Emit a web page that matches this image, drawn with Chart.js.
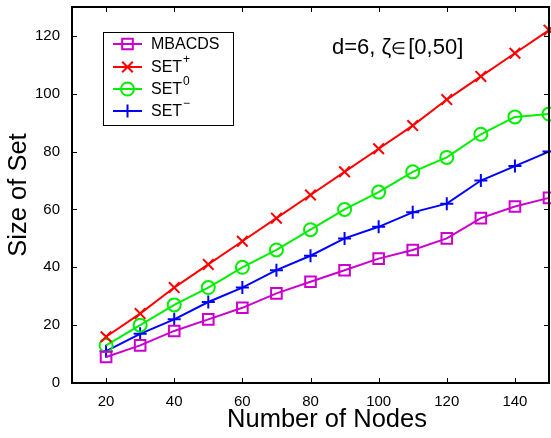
<!DOCTYPE html>
<html>
<head>
<meta charset="utf-8">
<script src="https://cdn.jsdelivr.net/npm/chart.js@4/dist/chart.umd.min.js"></script>
<style>
  html, body { margin: 0; padding: 0; background: #fff; }
  #wrap { width: 551px; height: 438px; }
</style>
</head>
<body>
<div id="wrap"><canvas id="c" width="551" height="438"></canvas></div>
<script>
// valores
const nodes = [20, 30, 40, 50, 60, 70, 80, 90, 100, 110, 120, 130, 140, 150];
const mbacds = [9, 13, 18, 22, 26, 31, 35, 39, 43, 46, 50, 57, 61, 64];
const setPlus = [16, 24, 33, 41, 49, 57, 65, 73, 81, 89, 98, 106, 114, 122];
const setZero = [13, 20, 27, 33, 40, 46, 53, 60, 66, 73, 78, 86, 92, 93];
const setMinus = [11, 17, 22, 28, 33, 39, 44, 50, 54, 59, 62, 70, 75, 80];
const xTicks = [20, 40, 60, 80, 100, 120, 140];
const yTicks = [0, 20, 40, 60, 80, 100, 120];

const FONT = 'Liberation Sans, Arial, Helvetica, sans-serif';

function serie(label, values, color, style, radius) {
    return {
        label: label,
        data: values.map((v, i) => ({ x: nodes[i], y: v })),
        borderColor: color,
        backgroundColor: 'rgba(0,0,0,0)',
        borderWidth: 2,
        pointStyle: style,
        pointRadius: radius,
        pointBorderWidth: 2,
        pointBorderColor: color,
        pointBackgroundColor: 'rgba(0,0,0,0)',
        tension: 0,
        fill: false,
        clip: false
    };
}

const datasets = [
    serie('MBACDS', mbacds, '#cc00cc', 'rect', 7.5),
    serie('SET', setPlus, '#ff0000', 'crossRot', 7.5),
    serie('SET', setZero, '#00ee00', 'circle', 6.5),
    serie('SET', setMinus, '#0000ff', 'cross', 6.5)
];
const legendSup = ['', '+', '0', '\u2212'];

// caja estilo MATLAB con ticks hacia dentro, leyenda y texto
const matlabBox = {
    id: 'matlabBox',
    afterDraw(chart) {
        const ctx = chart.ctx;
        const a = chart.chartArea;
        const xs = chart.scales.x, ys = chart.scales.y;
        ctx.save();
        ctx.strokeStyle = '#000';
        ctx.lineWidth = 2;
        ctx.strokeRect(a.left, a.top, a.right - a.left, a.bottom - a.top);
        ctx.lineWidth = 1;
        ctx.beginPath();
        xTicks.forEach(t => {
            const px = Math.round(xs.getPixelForValue(t)) + 0.5;
            ctx.moveTo(px, a.bottom); ctx.lineTo(px, a.bottom - 5);
            ctx.moveTo(px, a.top); ctx.lineTo(px, a.top + 5);
        });
        yTicks.forEach(t => {
            const py = Math.round(ys.getPixelForValue(t)) + 0.5;
            ctx.moveTo(a.left, py); ctx.lineTo(a.left + 5, py);
            ctx.moveTo(a.right, py); ctx.lineTo(a.right - 5, py);
        });
        ctx.stroke();

        // leyenda
        const lx = 103.5, ly = 32.5, lw = 130, lh = 93;
        ctx.fillStyle = '#fff';
        ctx.fillRect(lx, ly, lw, lh);
        ctx.lineWidth = 1;
        ctx.strokeRect(lx, ly, lw, lh);
        const rows = [44, 67, 89, 111];
        datasets.forEach((ds, i) => {
            const y = rows[i];
            ctx.strokeStyle = ds.borderColor;
            ctx.lineWidth = 2;
            ctx.beginPath();
            ctx.moveTo(113, y); ctx.lineTo(142, y);
            ctx.stroke();
            ctx.fillStyle = 'rgba(0,0,0,0)';
            Chart.helpers.drawPoint(ctx, {
                pointStyle: ds.pointStyle, radius: ds.pointRadius, borderWidth: 2, rotation: 0
            }, 127.5, y);
            ctx.fillStyle = '#000';
            ctx.font = '16px ' + FONT;
            ctx.textBaseline = 'middle';
            ctx.textAlign = 'left';
            ctx.fillText(ds.label, 151, y + 1);
            if (legendSup[i]) {
                const w = ctx.measureText(ds.label).width;
                ctx.font = '12px ' + FONT;
                ctx.fillText(legendSup[i], 151 + w + 1, y - 7);
            }
        });

        // anotación
        ctx.fillStyle = '#000';
        ctx.textBaseline = 'alphabetic';
        ctx.textAlign = 'left';
        let tx = 332;
        const base = 54;
        [['d=6, ', 22], ['\u03b6', 22], ['\u2208', 17], ['[0,50]', 22]].forEach(([s, sz]) => {
            ctx.font = sz + 'px ' + FONT;
            ctx.fillText(s, tx, base);
            tx += ctx.measureText(s).width + (sz === 17 ? 2 : 0);
        });

        // título del eje x (centrado como en la figura original)
        ctx.font = '25.5px ' + FONT;
        ctx.textAlign = 'center';
        ctx.fillText('Number of Nodes', 327, 427);
        ctx.restore();
    }
};

new Chart(document.getElementById('c'), {
    type: 'line',
    data: { datasets: datasets },
    options: {
        responsive: false,
        animation: false,
        layout: { autoPadding: false, padding: { top: 7, right: 2, left: 0, bottom: 0 } },
        plugins: { legend: { display: false }, tooltip: { enabled: false } },
        scales: {
            x: {
                type: 'linear',
                min: 10, max: 150,
                afterFit: s => { s.height = 55; s.paddingLeft = 0; s.paddingRight = 0; },
                afterBuildTicks: s => { s.ticks = xTicks.map(v => ({ value: v })); },
                grid: { display: false, drawTicks: false },
                border: { display: false },
                ticks: { color: '#000', font: { family: FONT, size: 15 }, padding: 10, maxRotation: 0 },
                title: { display: false }
            },
            y: {
                min: 0, max: 130,
                afterFit: s => { s.width = 72; s.paddingTop = 0; s.paddingBottom = 0; },
                afterBuildTicks: s => { s.ticks = yTicks.map(v => ({ value: v })); },
                grid: { display: false, drawTicks: false },
                border: { display: false },
                ticks: { color: '#000', font: { family: FONT, size: 15 }, padding: 12 },
                title: { display: true, text: 'Size of Set', color: '#000', font: { family: FONT, size: 25.5 }, padding: { top: 4, bottom: 0 } }
            }
        }
    },
    plugins: [matlabBox]
});
</script>
</body>
</html>
